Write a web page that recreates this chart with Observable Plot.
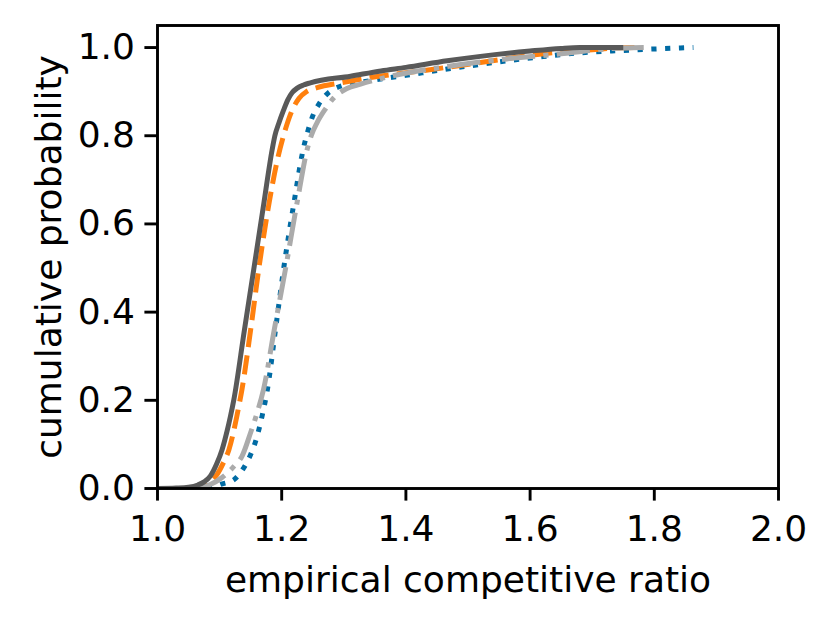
<!DOCTYPE html>
<html>
<head>
<meta charset="utf-8">
<script src="https://cdn.jsdelivr.net/npm/d3@7"></script>
<script src="https://cdn.jsdelivr.net/npm/@observablehq/plot@0.6"></script>
<style>
  html, body { margin: 0; padding: 0; background: white; }
</style>
</head>
<body>
<div id="chart"></div>
<script>
// Tick values
const xTicks = [1.0, 1.2, 1.4, 1.6, 1.8, 2.0];
const yTicks = [0.0, 0.2, 0.4, 0.6, 0.8, 1.0];

// Series: empirical CDFs (x = competitive ratio, y = cumulative probability)
const blueX = [1.08, 1.092, 1.101, 1.123, 1.139, 1.15, 1.158, 1.169, 1.177, 1.19, 1.203, 1.22, 1.2346, 1.242, 1.25, 1.26, 1.271, 1.283, 1.296, 1.33, 1.4, 1.5, 1.611, 1.681, 1.73, 1.772, 1.842, 1.863];
const blueY = [0.0, 0.004, 0.009, 0.02, 0.047, 0.077, 0.107, 0.168, 0.2245, 0.36, 0.497, 0.65, 0.769, 0.81, 0.845, 0.872, 0.892, 0.905, 0.913, 0.922, 0.937, 0.958, 0.978, 0.988, 0.992, 0.995, 0.999, 1.0];

const orangeX = [1.05, 1.065, 1.077, 1.087, 1.096, 1.106, 1.115, 1.1256, 1.131, 1.136, 1.15, 1.163, 1.18, 1.193, 1.205, 1.216, 1.228, 1.24, 1.257, 1.295, 1.343, 1.43, 1.52, 1.615, 1.70, 1.74, 1.77];
const orangeY = [0.0, 0.003, 0.009, 0.018, 0.032, 0.058, 0.088, 0.149, 0.187, 0.2245, 0.36, 0.497, 0.65, 0.745, 0.81, 0.855, 0.885, 0.9, 0.909, 0.92, 0.932, 0.948, 0.966, 0.985, 0.995, 0.999, 1.0];

const grayX = [1.06, 1.075, 1.085, 1.104, 1.123, 1.136, 1.15, 1.1605, 1.1707, 1.188, 1.206, 1.225, 1.241, 1.248, 1.257, 1.27, 1.284, 1.305, 1.327, 1.37, 1.466, 1.574, 1.65, 1.70, 1.75, 1.783];
const grayY = [0.0, 0.004, 0.009, 0.025, 0.05, 0.073, 0.127, 0.172, 0.2245, 0.36, 0.497, 0.65, 0.769, 0.802, 0.83, 0.86, 0.886, 0.907, 0.917, 0.933, 0.957, 0.976, 0.986, 0.994, 0.999, 1.0];

const darkX = [1.0, 1.03, 1.05, 1.065, 1.075, 1.085, 1.095, 1.104, 1.112, 1.1175, 1.123, 1.14, 1.155, 1.17, 1.1847, 1.189, 1.1955, 1.203, 1.21, 1.217, 1.225, 1.235, 1.246, 1.311, 1.36, 1.4, 1.4665, 1.52, 1.6, 1.65, 1.68, 1.75];
const darkY = [0.0, 0.001, 0.003, 0.008, 0.015, 0.028, 0.055, 0.088, 0.13, 0.164, 0.202, 0.36, 0.497, 0.635, 0.769, 0.80, 0.829, 0.858, 0.882, 0.898, 0.908, 0.915, 0.92, 0.935, 0.947, 0.955, 0.97, 0.98, 0.992, 0.998, 1.0, 1.0];

const seriesColors = ["#006BA4", "#FF800E", "#ABABAB", "#595959"];
const seriesDash = ["5.2,8.6", "19.2,8.3", "33.3,8.3,5.2,8.3", null];

const toRows = (xs, ys) => xs.map((x, i) => ({x, y: ys[i]}));
const allRows = [toRows(blueX, blueY), toRows(orangeX, orangeY), toRows(grayX, grayY), toRows(darkX, darkY)];

const fmt = d3.format(".1f");

const lineMarks = allRows.map((rows, i) => Plot.line(rows, {
  x: "x", y: "y",
  stroke: seriesColors[i],
  strokeWidth: 5,
  strokeDasharray: seriesDash[i],
  strokeLinecap: "butt",
  strokeLinejoin: "round",
  curve: "monotone-x",
  clip: true
}));

const chart = Plot.plot({
  width: 832,
  height: 624,
  marginLeft: 157,
  marginRight: 54,
  marginTop: 25,
  marginBottom: 136,
  style: {fontFamily: "DejaVu Sans", fontSize: "36px", background: "white", color: "black"},
  x: {domain: [1, 2]},
  y: {domain: [0, 1.05]},
  marks: [
    ...lineMarks,
    Plot.frame({stroke: "black", strokeWidth: 2.9}),
    Plot.axisX({ticks: xTicks, tickFormat: fmt, tickSize: 12.6, tickPadding: 14, strokeWidth: 2.9, label: null, fontSize: 36}),
    Plot.axisY({ticks: yTicks, tickFormat: fmt, tickSize: 12.6, tickPadding: 10, strokeWidth: 2.9, label: null, fontSize: 36}),
    Plot.text(["empirical competitive ratio"], {text: d => d, frameAnchor: "bottom", textAnchor: "middle", lineAnchor: "middle", dy: 92, fontSize: 36}),
    Plot.text(["cumulative probability"], {text: d => d, frameAnchor: "left", textAnchor: "middle", lineAnchor: "middle", rotate: -90, dx: -108, fontSize: 36})
  ]
});
document.getElementById("chart").appendChild(chart);
</script>
</body>
</html>
